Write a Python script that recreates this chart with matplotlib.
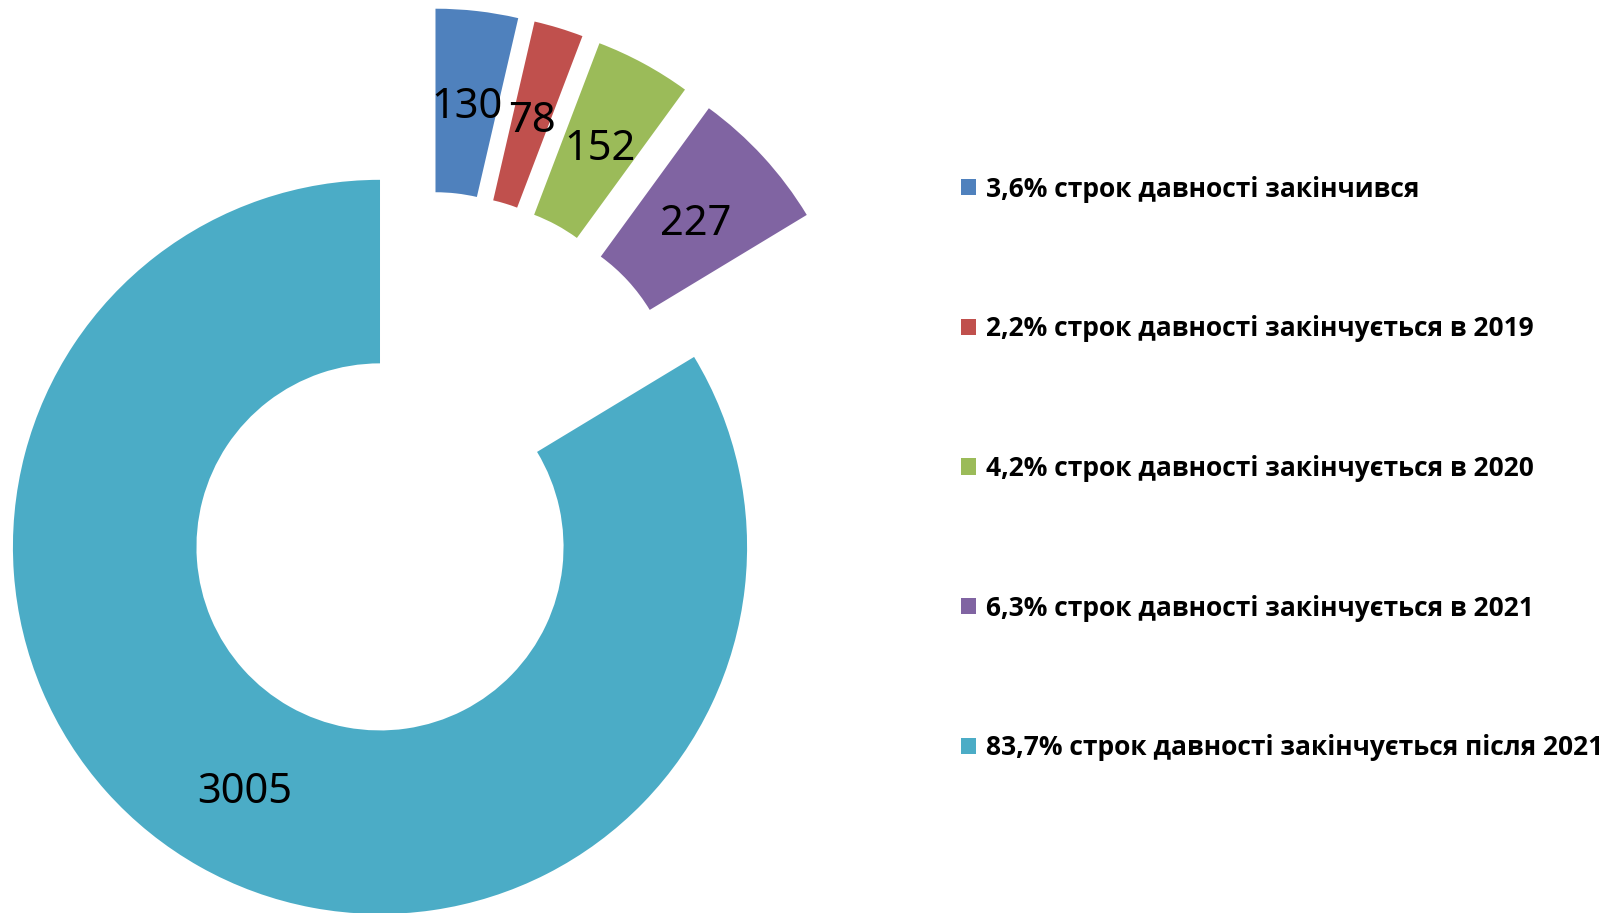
import matplotlib.pyplot as plt
import numpy as np

# values of the doughnut
values = [130, 78, 152, 227, 3005]
legend_labels = ['3,6% строк давності закінчився',
                 '2,2% строк давності закінчується в 2019',
                 '4,2% строк давності закінчується в 2020',
                 '6,3% строк давності закінчується в 2021',
                 '83,7% строк давності закінчується після 2021']
colors = ['#4F81BD', '#C0504D', '#9BBB59', '#8064A2', '#4BACC6']

plt.rcParams['font.family'] = ['Noto Sans', 'DejaVu Sans']

fig = plt.figure(figsize=(16.1, 9.13), dpi=100)
ax = fig.add_axes([0, 0, 1, 1])

wedges, texts = ax.pie(values,
                       colors=colors,
                       explode=[0.25] * 5,
                       startangle=90,
                       counterclock=False,
                       radius=1.0,
                       center=(0.123, 0.218),
                       labels=[str(v) for v in values],
                       labeldistance=0.75,
                       wedgeprops=dict(width=0.5, linewidth=0),
                       textprops=dict(fontsize=30, color='black'))
for t in texts:
    t.set_ha('center')
    t.set_va('center_baseline')

ax.set_xlim(-1.035, 3.351)
ax.set_ylim(-0.997, 1.490)
ax.set_aspect('equal')
ax.axis('off')

# legend on the right
leg = ax.legend(wedges, legend_labels,
                loc='center left',
                bbox_to_anchor=(0.582, 0.487),
                bbox_transform=fig.transFigure,
                frameon=False,
                prop=dict(family=['Open Sans', 'DejaVu Sans'], size=19, weight='bold'),
                handlelength=0.57, handleheight=0.57,
                handletextpad=0.38,
                labelspacing=4.27)

fig.savefig('out.png', dpi=100)
